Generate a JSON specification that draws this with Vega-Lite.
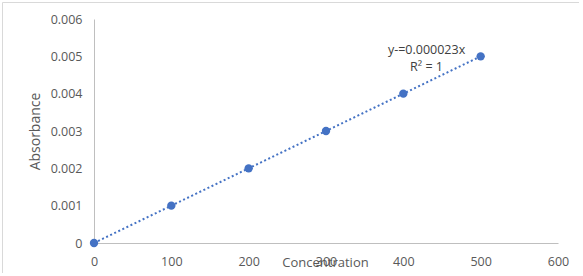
{
  "$schema": "https://vega.github.io/schema/vega-lite/v6.json",
  "width": 577,
  "height": 271,
  "autosize": {"type": "none"},
  "padding": {"left": 2, "top": 2, "right": 0, "bottom": 0},
  "background": "white",
  "config": {
    "view": {"stroke": "#d9d9d9", "strokeWidth": 1},
    "font": "Open Sans",
    "axis": {"grid": false, "ticks": false, "labelFlush": false, "labelOverlap": false, "domainColor": "#bfbfbf", "labelColor": "#595959", "titleColor": "#595959", "labelFont": "Open Sans", "titleFont": "Open Sans", "labelFontSize": 12.5, "titleFontSize": 14, "titleFontWeight": "normal"}
  },
  "datasets": {
    "pts": [
      {"conc": 0, "abs": 0},
      {"conc": 100, "abs": 0.001},
      {"conc": 200, "abs": 0.002},
      {"conc": 300, "abs": 0.003},
      {"conc": 400, "abs": 0.004},
      {"conc": 500, "abs": 0.005}
    ],
    "ann": [
      {"conc": 430, "abs": 0.00517, "label": "y-=0.000023x"},
      {"conc": 430, "abs": 0.00471, "label": "R² = 1"}
    ]
  },
  "layer": [
    {
      "data": {"name": "pts"},
      "mark": {"type": "line", "color": "#4472C4", "strokeWidth": 2, "strokeDash": [2, 2.5]},
      "encoding": {
        "x": {"field": "conc", "type": "quantitative", "scale": {"domain": [0, 600], "range": [92, 556]},
          "axis": {"values": [0, 100, 200, 300, 400, 500, 600], "title": "Concentration", "offset": -30, "labelPadding": 12, "titleX": 323, "titleY": 19, "titleBaseline": "middle", "titleAlign": "center", "titleFontSize": 13}},
        "y": {"field": "abs", "type": "quantitative", "scale": {"domain": [0, 0.006], "range": [241, 17]},
          "axis": {"values": [0, 0.001, 0.002, 0.003, 0.004, 0.005, 0.006], "format": "~g", "title": "Absorbance", "offset": -92, "labelPadding": 12, "titleX": -59, "titleY": 129, "titleBaseline": "middle", "titleAlign": "center", "titleAngle": -90}}
      }
    },
    {
      "data": {"name": "pts"},
      "mark": {"type": "circle", "color": "#4472C4", "opacity": 1, "size": 70},
      "encoding": {
        "x": {"field": "conc", "type": "quantitative"},
        "y": {"field": "abs", "type": "quantitative"}
      }
    },
    {
      "data": {"name": "ann"},
      "mark": {"type": "text", "color": "#404040", "fontSize": 12.5, "font": "Open Sans", "align": "center", "baseline": "middle"},
      "encoding": {
        "x": {"field": "conc", "type": "quantitative"},
        "y": {"field": "abs", "type": "quantitative"},
        "text": {"field": "label"}
      }
    }
  ]
}
